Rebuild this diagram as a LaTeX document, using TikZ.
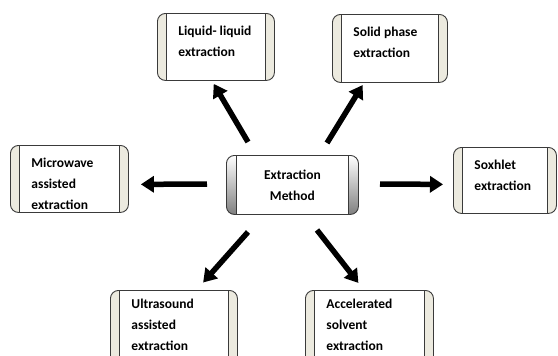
\documentclass[tikz,border=0pt]{standalone}
\usepackage{fontspec}
\setmainfont{Carlito}
\usetikzlibrary{arrows.meta}
\definecolor{stripbg}{HTML}{ECEADF}
\definecolor{rimcol}{HTML}{3A3A3A}
\newcommand{\btxt}[4][7pt]{\parbox[c][#3][t]{#2}{\vspace*{#1}\raggedright\leftskip=21pt\strut #4}}

\begin{document}
\begin{tikzpicture}[x=1pt,y=-1pt,font=\fontsize{13.5}{21}\selectfont\bfseries]
                \tikzstyle{scroll}=[draw=rimcol, line width=0.9pt, rounded corners=8pt, inner sep=0pt, anchor=north west,
                  path picture={
                    \fill[stripbg, sharp corners] (path picture bounding box.north west) rectangle ([xshift=9pt]path picture bounding box.south west);
                    \fill[stripbg, sharp corners] (path picture bounding box.north east) rectangle ([xshift=-9pt]path picture bounding box.south east);
                    \draw[rimcol, line width=0.7pt] ([xshift=9pt]path picture bounding box.north west) -- ([xshift=9pt]path picture bounding box.south west);
                    \draw[rimcol, line width=0.7pt] ([xshift=-9pt]path picture bounding box.north east) -- ([xshift=-9pt]path picture bounding box.south east);
                  }]
                \tikzstyle{hub}=[draw=rimcol, line width=0.9pt, rounded corners=8pt, align=center, anchor=north west,
                  minimum width=132pt, minimum height=59pt, inner sep=0pt,
                  path picture={
                    \shade[top color=white, bottom color=black!50, sharp corners] (path picture bounding box.north west) rectangle ([xshift=10pt]path picture bounding box.south west);
                    \shade[top color=white, bottom color=black!50, sharp corners] (path picture bounding box.north east) rectangle ([xshift=-10pt]path picture bounding box.south east);
                    \draw[rimcol, line width=0.7pt] ([xshift=10pt]path picture bounding box.north west) -- ([xshift=10pt]path picture bounding box.south west);
                    \draw[rimcol, line width=0.7pt] ([xshift=-10pt]path picture bounding box.north east) -- ([xshift=-10pt]path picture bounding box.south east);
                  }]
                \tikzstyle{fat}=[line width=5.5pt, -{Triangle[length=13pt,width=16pt]}]
                \clip (0,0) rectangle (558,356);

                \node[hub] (cen) at (226,155) {Extraction\\Method};

                \node[scroll] (liq) at (157,13) {\btxt{117pt}{67pt}{Liquid- liquid\\extraction}};
                \node[scroll] (sol) at (332,14) {\btxt{115pt}{68pt}{Solid phase\\extraction}};
                \node[scroll] (mic) at (10,145) {\btxt{118pt}{67pt}{Microwave\\assisted\\extraction}};
                \node[scroll] (sox) at (453,147) {\btxt{103pt}{66pt}{Soxhlet\\extraction}};
                \node[scroll] (ult) at (110,290) {\btxt[3.5pt]{127pt}{80pt}{Ultrasound\\assisted\\extraction}};
                \node[scroll] (acc) at (305,290) {\btxt[3.5pt]{128pt}{80pt}{Accelerated\\solvent\\extraction}};

                \coordinate (s1) at (248,142);
                \coordinate (s2) at (327,143);
                \coordinate (s3) at (207,184);
                \coordinate (s4) at (380,184);
                \coordinate (s5) at (248,232);
                \coordinate (s6) at (317,230);

                \draw[fat, shorten >=3.5pt] (s1) -- ([xshift=-4pt]liq.south);
                \draw[fat, shorten >=2.5pt] (s2) -- ([xshift=-26pt]sol.south);
                \draw[fat, shorten >=12pt] (s3) -- ([yshift=-5.5pt]mic.east);
                \draw[fat, shorten >=10pt] (s4) -- ([yshift=-4pt]sox.west);
                \draw[fat, shorten >=10pt] (s5) -- ([xshift=22.5pt]ult.north);
                \draw[fat, shorten >=9pt] (s6) -- ([xshift=-5.5pt]acc.north);

                \end{tikzpicture}
\end{document}
